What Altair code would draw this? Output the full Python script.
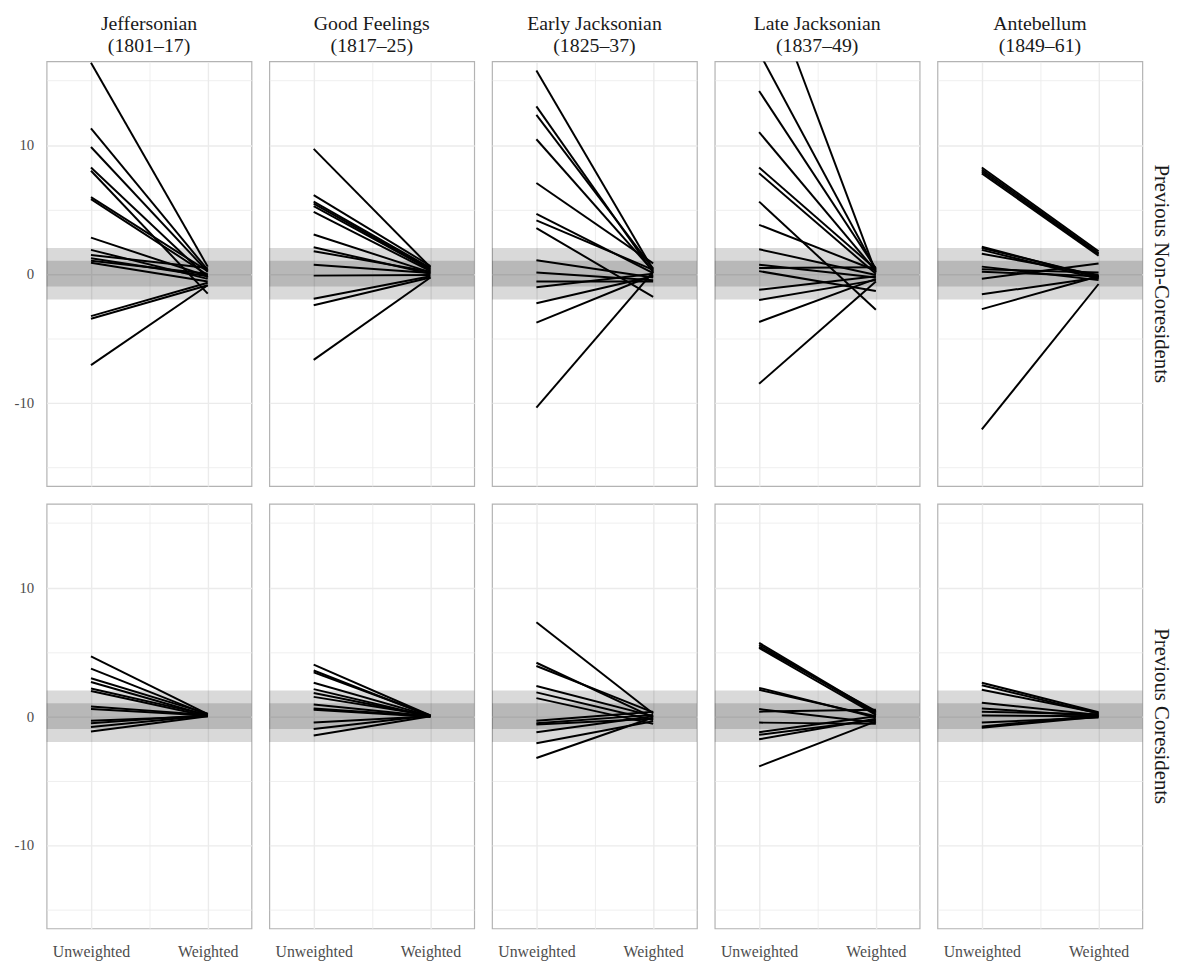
import altair as alt
import pandas as pd

periods = ["Jeffersonian|(1801–17)", "Good Feelings|(1817–25)", "Early Jacksonian|(1825–37)",
           "Late Jacksonian|(1837–49)", "Antebellum|(1849–61)"]
groups = ["Previous Non-Coresidents", "Previous Coresidents"]
stages = ["Unweighted", "Weighted"]

# Previous Non-Coresidents: unweighted / weighted standardized differences
nc_jeff_u = [16.4, 11.3, 9.85, 8.25, 8.0, 5.95, 5.8, 2.8, 1.85, 1.45, 1.2, 1.0, 0.85, -3.3, -3.5, -7.1]
nc_jeff_w = [0.55, 0.3, 0.15, -0.3, -1.55, 0.2, -0.1, -0.2, -0.4, 0.45, -0.2, 0.0, -0.6, -0.7, -0.9, -0.9]
nc_gf_u = [9.7, 6.1, 5.6, 5.45, 5.25, 4.8, 3.05, 2.05, 1.75, 0.7, -0.15, -1.95, -2.45, -6.7]
nc_gf_w = [0.5, 0.6, 0.45, 0.35, 0.3, 0.2, 0.1, 0.0, 0.15, 0.05, -0.1, -0.2, -0.3, -0.3]
nc_ej_u = [15.8, 13.0, 12.35, 10.45, 7.05, 4.65, 4.15, 3.55, 1.05, 0.1, -0.6, -1.05, -2.3, -3.8, -10.4]
nc_ej_w = [0.3, 0.1, 0.4, 0.2, 0.8, 0.05, 0.3, -1.8, -0.3, -0.5, -0.6, 0.0, -0.2, -0.1, 0.15]
nc_lj_u = [24.3, 17.2, 14.2, 11.0, 8.25, 7.8, 5.6, 3.8, 1.9, 0.7, 0.45, 0.2, -1.25, -2.05, -3.75, -8.55]
nc_lj_w = [0.1, 0.3, 0.4, 0.2, 0.35, 0.0, -2.8, 0.25, -0.1, -0.3, 0.5, -1.35, -0.2, -0.5, -0.4, -0.6]
nc_ab_u = [8.25, 8.1, 7.95, 7.8, 2.1, 2.0, 1.85, 1.55, 0.55, 0.35, 0.15, -0.4, -1.6, -2.75, -12.1]
nc_ab_w = [1.75, 1.6, 1.5, 1.4, -0.3, -0.2, -0.4, -0.1, -0.5, 0.1, -0.2, 0.8, -0.3, -0.2, -0.8]

# Previous Coresidents
co_jeff_u = [4.65, 3.7, 2.95, 2.65, 2.15, 1.95, 0.75, 0.55, -0.35, -0.55, -0.85, -1.2]
co_jeff_w = [0.15, 0.1, 0.2, 0.05, 0.1, 0.0, 0.1, 0.05, 0.0, 0.1, 0.05, 0.0]
co_gf_u = [4.0, 3.55, 3.4, 2.6, 2.1, 1.8, 1.5, 0.9, 0.6, 0.5, -0.5, -1.0, -1.5]
co_gf_w = [0.05, 0.0, 0.05, 0.0, -0.05, 0.0, 0.05, 0.0, 0.0, -0.05, 0.0, 0.05, 0.0]
co_ej_u = [7.3, 4.15, 3.9, 2.35, 1.85, 1.4, -0.35, -0.55, -0.65, -1.25, -2.1, -3.25]
co_ej_w = [0.2, -0.1, 0.3, 0.0, -0.3, -0.6, 0.35, 0.1, -0.2, 0.0, -0.4, -0.1]
co_lj_u = [5.7, 5.55, 5.4, 5.3, 2.2, 2.05, 0.55, 0.35, -0.5, -1.25, -1.45, -1.8, -3.9]
co_lj_w = [0.3, 0.2, 0.4, 0.1, -0.1, 0.0, -0.5, 0.5, -0.6, 0.0, -0.3, -0.2, -0.4]
co_ab_u = [2.6, 2.4, 2.05, 1.05, 0.6, 0.35, 0.05, -0.5, -0.8, -0.9]
co_ab_w = [0.3, 0.2, 0.25, 0.1, 0.0, 0.15, 0.0, -0.1, 0.05, -0.05]

band_outer = [-2, 2]
band_inner = [-1, 1]

series = {
    (groups[0], periods[0]): (nc_jeff_u, nc_jeff_w),
    (groups[0], periods[1]): (nc_gf_u, nc_gf_w),
    (groups[0], periods[2]): (nc_ej_u, nc_ej_w),
    (groups[0], periods[3]): (nc_lj_u, nc_lj_w),
    (groups[0], periods[4]): (nc_ab_u, nc_ab_w),
    (groups[1], periods[0]): (co_jeff_u, co_jeff_w),
    (groups[1], periods[1]): (co_gf_u, co_gf_w),
    (groups[1], periods[2]): (co_ej_u, co_ej_w),
    (groups[1], periods[3]): (co_lj_u, co_lj_w),
    (groups[1], periods[4]): (co_ab_u, co_ab_w),
}

rows = []
for (g, p), (u, w) in series.items():
    for i, (a, b) in enumerate(zip(u, w)):
        lid = f"{g}-{p}-{i}"
        rows.append(dict(group=g, period=p, kind="line", lid=lid, stage=1, value=a))
        rows.append(dict(group=g, period=p, kind="line", lid=lid, stage=2, value=b))
    rows.append(dict(group=g, period=p, kind="band", lo=band_outer[0], hi=band_outer[1]))
    rows.append(dict(group=g, period=p, kind="band", lo=band_inner[0], hi=band_inner[1]))
df = pd.DataFrame(rows)

FONT = "Liberation Serif"
LABEL_COLOR = "#4d4d4d"

xscale = alt.Scale(domain=[0.62, 2.375], nice=False, zero=False)
yscale = alt.Scale(domain=[-16.5, 16.5], nice=False, zero=False)

xaxis = alt.Axis(
    title=None, values=[1, 1.5, 2], ticks=False, domain=False,
    labelExpr="datum.value == 1 ? 'Unweighted' : (datum.value == 2 ? 'Weighted' : '')",
    labelFont=FONT, labelFontSize=16, labelColor=LABEL_COLOR,
    gridColor="#ebebeb",
    gridWidth={"condition": {"test": "datum.value === 1.5", "value": 0.8}, "value": 1.4},
    labelPadding=14,
)
yaxis = alt.Axis(
    title=None, values=[-15, -10, -5, 0, 5, 10, 15], ticks=False, domain=False,
    labelExpr="datum.value % 10 == 0 ? toString(datum.value) : ''",
    labelFont=FONT, labelFontSize=15, labelColor=LABEL_COLOR,
    gridColor="#ebebeb",
    gridWidth={"condition": {"test": "datum.value % 10 == 0", "value": 1.4}, "value": 0.8},
    labelPadding=12,
)

bands = alt.Chart().mark_rect(color="black", opacity=0.15).transform_filter(
    "datum.kind == 'band'"
).encode(
    y=alt.Y("lo:Q", scale=yscale, axis=yaxis),
    y2="hi:Q",
)

lines = alt.Chart().mark_line(color="black", strokeWidth=2, clip=True).transform_filter(
    "datum.kind == 'line'"
).encode(
    x=alt.X("stage:Q", scale=xscale, axis=xaxis),
    y=alt.Y("value:Q", scale=yscale, axis=yaxis),
    detail="lid:N",
)

chart = alt.layer(bands, lines, data=df).properties(width=207, height=429).facet(
    column=alt.Column("period:N", sort=periods, title=None,
                      header=alt.Header(labelExpr="split(datum.value, '|')", labelFont=FONT,
                                        labelFontSize=20, labelColor="#1a1a1a",
                                        labelLineHeight=23, labelPadding=4)),
    row=alt.Row("group:N", sort=groups, title=None,
                header=alt.Header(labelOrient="right", labelAngle=90, labelFont=FONT,
                                  labelFontSize=21, labelColor="#1a1a1a", labelPadding=8)),
    spacing={"row": 16, "column": 16},
).properties(
    padding={"top": 1, "left": 6, "right": 5, "bottom": 5}
).configure_view(
    stroke="#b3b3b3", strokeWidth=1.2
)

chart.save("out.html", embed_options={"renderer": "svg", "actions": False})
